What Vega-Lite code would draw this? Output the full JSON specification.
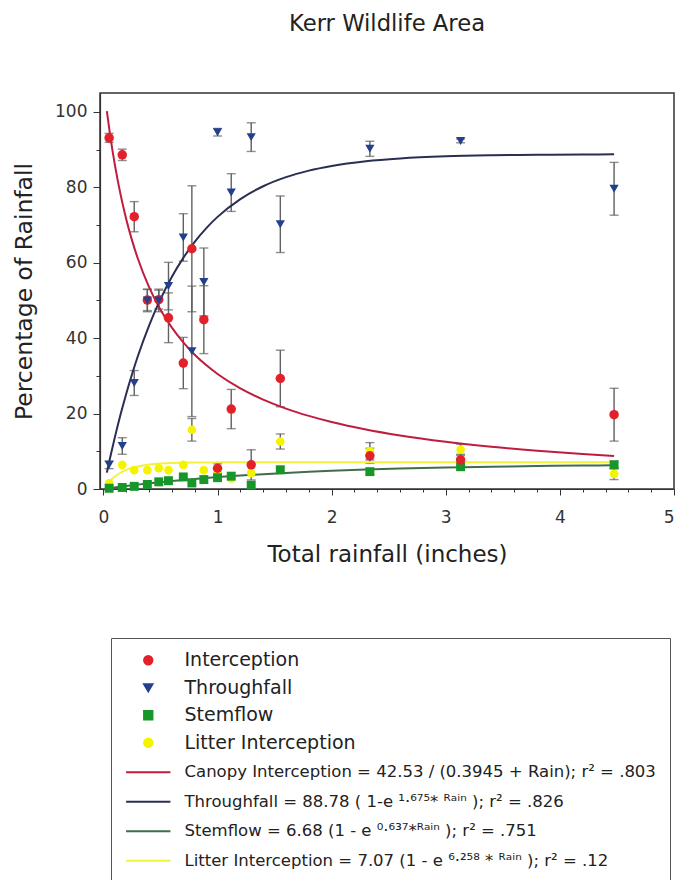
{
  "$schema": "https://vega.github.io/schema/vega-lite/v6.json",
  "width": 574,
  "height": 396,
  "autosize": {"type": "none"},
  "padding": {"left": 100, "top": 93, "right": 4, "bottom": 391},
  "background": "white",
  "title": {
    "text": "Kerr Wildlife Area",
    "font": "DejaVu Sans",
    "fontSize": 22.7,
    "fontWeight": "normal",
    "color": "#222222",
    "anchor": "middle",
    "frame": "group",
    "baseline": "alphabetic",
    "offset": 39
  },
  "datasets": {
    "obs": [
      {"series": "Litter Interception", "x": 0.05, "y": 1.5},
      {"series": "Litter Interception", "x": 0.165, "y": 6.4},
      {"series": "Litter Interception", "x": 0.27, "y": 5.0},
      {"series": "Litter Interception", "x": 0.385, "y": 5.0},
      {"series": "Litter Interception", "x": 0.485, "y": 5.5},
      {"series": "Litter Interception", "x": 0.57, "y": 5.0},
      {"series": "Litter Interception", "x": 0.7, "y": 6.4},
      {"series": "Litter Interception", "x": 0.775, "y": 15.7, "sd": 3},
      {"series": "Litter Interception", "x": 0.88, "y": 5.0},
      {"series": "Litter Interception", "x": 1.0, "y": 4.3},
      {"series": "Litter Interception", "x": 1.12, "y": 2.8},
      {"series": "Litter Interception", "x": 1.295, "y": 4.2},
      {"series": "Litter Interception", "x": 1.55, "y": 12.6, "sd": 2},
      {"series": "Litter Interception", "x": 2.335, "y": 10.0, "sd": 2.3},
      {"series": "Litter Interception", "x": 3.13, "y": 10.4, "sd": 1.5},
      {"series": "Litter Interception", "x": 4.475, "y": 4.0, "sd": 1.5},
      {"series": "Stemflow", "x": 0.05, "y": 0.2},
      {"series": "Stemflow", "x": 0.165, "y": 0.4},
      {"series": "Stemflow", "x": 0.27, "y": 0.7},
      {"series": "Stemflow", "x": 0.385, "y": 1.2},
      {"series": "Stemflow", "x": 0.485, "y": 1.9},
      {"series": "Stemflow", "x": 0.57, "y": 2.2},
      {"series": "Stemflow", "x": 0.7, "y": 3.2},
      {"series": "Stemflow", "x": 0.775, "y": 1.6},
      {"series": "Stemflow", "x": 0.88, "y": 2.5},
      {"series": "Stemflow", "x": 1.0, "y": 3.0},
      {"series": "Stemflow", "x": 1.12, "y": 3.4},
      {"series": "Stemflow", "x": 1.295, "y": 1.0},
      {"series": "Stemflow", "x": 1.55, "y": 5.1},
      {"series": "Stemflow", "x": 2.335, "y": 4.6, "sd": 0.8},
      {"series": "Stemflow", "x": 3.13, "y": 5.9},
      {"series": "Stemflow", "x": 4.475, "y": 6.4, "sd": 1},
      {"series": "Interception", "x": 0.05, "y": 93.1, "sd": 1.2},
      {"series": "Interception", "x": 0.165, "y": 88.6, "sd": 1.5},
      {"series": "Interception", "x": 0.27, "y": 72.2, "sd": 4},
      {"series": "Interception", "x": 0.385, "y": 50.1, "sd": 2.8},
      {"series": "Interception", "x": 0.485, "y": 50.2, "sd": 2.5},
      {"series": "Interception", "x": 0.57, "y": 45.4, "sd": 6.6},
      {"series": "Interception", "x": 0.7, "y": 33.4, "sd": 6.8},
      {"series": "Interception", "x": 0.775, "y": 63.7, "sd": 16.7},
      {"series": "Interception", "x": 0.88, "y": 44.9, "sd": 9},
      {"series": "Interception", "x": 1.0, "y": 5.5, "sd": 1.2},
      {"series": "Interception", "x": 1.12, "y": 21.2, "sd": 5.2},
      {"series": "Interception", "x": 1.295, "y": 6.4, "sd": 4},
      {"series": "Interception", "x": 1.55, "y": 29.3, "sd": 7.5},
      {"series": "Interception", "x": 2.335, "y": 8.8, "sd": 2},
      {"series": "Interception", "x": 3.13, "y": 7.7, "sd": 1.5},
      {"series": "Interception", "x": 4.475, "y": 19.7, "sd": 7},
      {"series": "Throughfall", "x": 0.05, "y": 6.4, "sd": 1},
      {"series": "Throughfall", "x": 0.165, "y": 11.4, "sd": 2.2},
      {"series": "Throughfall", "x": 0.27, "y": 28.1, "sd": 3.3},
      {"series": "Throughfall", "x": 0.385, "y": 50.0, "sd": 3},
      {"series": "Throughfall", "x": 0.485, "y": 50.0, "sd": 3},
      {"series": "Throughfall", "x": 0.57, "y": 53.8, "sd": 6.3},
      {"series": "Throughfall", "x": 0.7, "y": 66.7, "sd": 6.3},
      {"series": "Throughfall", "x": 0.775, "y": 36.5, "sd": 17.3},
      {"series": "Throughfall", "x": 0.88, "y": 54.9, "sd": 9},
      {"series": "Throughfall", "x": 1.0, "y": 94.6, "sd": 1},
      {"series": "Throughfall", "x": 1.12, "y": 78.6, "sd": 5},
      {"series": "Throughfall", "x": 1.295, "y": 93.3, "sd": 3.8},
      {"series": "Throughfall", "x": 1.55, "y": 70.2, "sd": 7.5},
      {"series": "Throughfall", "x": 2.335, "y": 90.2, "sd": 2},
      {"series": "Throughfall", "x": 3.13, "y": 92.3, "sd": 0.5},
      {"series": "Throughfall", "x": 4.475, "y": 79.6, "sd": 7}
    ],
    "fitLabels": [
      {"fit": "canopy", "label": "Canopy Interception = 42.53 / (0.3945 + Rain); r² = .803"},
      {"fit": "through", "label": "Throughfall = 88.78 ( 1-e ¹·⁶⁷⁵* ᴿᵃⁱⁿ ); r² = .826"},
      {"fit": "stem", "label": "Stemflow = 6.68 (1 - e ⁰·⁶³⁷*ᴿᵃⁱⁿ ); r² = .751"},
      {"fit": "litter", "label": "Litter Interception = 7.07 (1 - e ⁶·²⁵⁸ * ᴿᵃⁱⁿ ); r² = .12"}
    ],
    "fits": [
      {"fit": "canopy", "x": 0.03, "y": 100.19},
      {"fit": "canopy", "x": 0.06, "y": 93.58},
      {"fit": "canopy", "x": 0.1, "y": 86.01},
      {"fit": "canopy", "x": 0.15, "y": 78.11},
      {"fit": "canopy", "x": 0.2, "y": 71.54},
      {"fit": "canopy", "x": 0.25, "y": 65.99},
      {"fit": "canopy", "x": 0.3, "y": 61.24},
      {"fit": "canopy", "x": 0.4, "y": 53.53},
      {"fit": "canopy", "x": 0.5, "y": 47.55},
      {"fit": "canopy", "x": 0.6, "y": 42.77},
      {"fit": "canopy", "x": 0.7, "y": 38.86},
      {"fit": "canopy", "x": 0.8, "y": 35.6},
      {"fit": "canopy", "x": 0.9, "y": 32.85},
      {"fit": "canopy", "x": 1.0, "y": 30.5},
      {"fit": "canopy", "x": 1.2, "y": 26.67},
      {"fit": "canopy", "x": 1.4, "y": 23.7},
      {"fit": "canopy", "x": 1.6, "y": 21.32},
      {"fit": "canopy", "x": 1.8, "y": 19.38},
      {"fit": "canopy", "x": 2.0, "y": 17.76},
      {"fit": "canopy", "x": 2.3, "y": 15.78},
      {"fit": "canopy", "x": 2.6, "y": 14.2},
      {"fit": "canopy", "x": 3.0, "y": 12.53},
      {"fit": "canopy", "x": 3.4, "y": 11.21},
      {"fit": "canopy", "x": 3.8, "y": 10.14},
      {"fit": "canopy", "x": 4.2, "y": 9.26},
      {"fit": "canopy", "x": 4.475, "y": 8.73},
      {"fit": "through", "x": 0.03, "y": 4.35},
      {"fit": "through", "x": 0.06, "y": 8.49},
      {"fit": "through", "x": 0.1, "y": 13.69},
      {"fit": "through", "x": 0.15, "y": 19.73},
      {"fit": "through", "x": 0.2, "y": 25.28},
      {"fit": "through", "x": 0.25, "y": 30.37},
      {"fit": "through", "x": 0.3, "y": 35.07},
      {"fit": "through", "x": 0.4, "y": 43.35},
      {"fit": "through", "x": 0.5, "y": 50.36},
      {"fit": "through", "x": 0.6, "y": 56.28},
      {"fit": "through", "x": 0.7, "y": 61.29},
      {"fit": "through", "x": 0.8, "y": 65.54},
      {"fit": "through", "x": 0.9, "y": 69.12},
      {"fit": "through", "x": 1.0, "y": 72.15},
      {"fit": "through", "x": 1.2, "y": 76.88},
      {"fit": "through", "x": 1.4, "y": 80.27},
      {"fit": "through", "x": 1.6, "y": 82.69},
      {"fit": "through", "x": 1.8, "y": 84.42},
      {"fit": "through", "x": 2.0, "y": 85.66},
      {"fit": "through", "x": 2.3, "y": 86.9},
      {"fit": "through", "x": 2.6, "y": 87.64},
      {"fit": "through", "x": 3.0, "y": 88.2},
      {"fit": "through", "x": 3.4, "y": 88.48},
      {"fit": "through", "x": 3.8, "y": 88.63},
      {"fit": "through", "x": 4.2, "y": 88.7},
      {"fit": "through", "x": 4.475, "y": 88.73},
      {"fit": "stem", "x": 0.03, "y": 0.13},
      {"fit": "stem", "x": 0.1, "y": 0.41},
      {"fit": "stem", "x": 0.2, "y": 0.8},
      {"fit": "stem", "x": 0.3, "y": 1.16},
      {"fit": "stem", "x": 0.4, "y": 1.5},
      {"fit": "stem", "x": 0.5, "y": 1.82},
      {"fit": "stem", "x": 0.6, "y": 2.12},
      {"fit": "stem", "x": 0.7, "y": 2.4},
      {"fit": "stem", "x": 0.8, "y": 2.67},
      {"fit": "stem", "x": 0.9, "y": 2.92},
      {"fit": "stem", "x": 1.0, "y": 3.15},
      {"fit": "stem", "x": 1.2, "y": 3.57},
      {"fit": "stem", "x": 1.4, "y": 3.94},
      {"fit": "stem", "x": 1.6, "y": 4.27},
      {"fit": "stem", "x": 1.8, "y": 4.56},
      {"fit": "stem", "x": 2.0, "y": 4.81},
      {"fit": "stem", "x": 2.3, "y": 5.14},
      {"fit": "stem", "x": 2.6, "y": 5.41},
      {"fit": "stem", "x": 3.0, "y": 5.69},
      {"fit": "stem", "x": 3.4, "y": 5.91},
      {"fit": "stem", "x": 3.8, "y": 6.09},
      {"fit": "stem", "x": 4.2, "y": 6.22},
      {"fit": "stem", "x": 4.475, "y": 6.29},
      {"fit": "litter", "x": 0.03, "y": 1.21},
      {"fit": "litter", "x": 0.06, "y": 2.21},
      {"fit": "litter", "x": 0.1, "y": 3.29},
      {"fit": "litter", "x": 0.15, "y": 4.31},
      {"fit": "litter", "x": 0.2, "y": 5.05},
      {"fit": "litter", "x": 0.25, "y": 5.59},
      {"fit": "litter", "x": 0.3, "y": 5.99},
      {"fit": "litter", "x": 0.4, "y": 6.49},
      {"fit": "litter", "x": 0.5, "y": 6.76},
      {"fit": "litter", "x": 0.6, "y": 6.91},
      {"fit": "litter", "x": 0.7, "y": 6.98},
      {"fit": "litter", "x": 0.8, "y": 7.02},
      {"fit": "litter", "x": 1.0, "y": 7.06},
      {"fit": "litter", "x": 1.4, "y": 7.07},
      {"fit": "litter", "x": 2.0, "y": 7.07},
      {"fit": "litter", "x": 3.0, "y": 7.07},
      {"fit": "litter", "x": 4.475, "y": 7.07}
    ]
  },
  "config": {
    "view": {"stroke": "#333333", "strokeWidth": 1.5},
    "axis": {
      "grid": false,
      "domainColor": "#333333",
      "domainWidth": 1.2,
      "tickColor": "#333333",
      "labelFont": "DejaVu Sans",
      "labelFontSize": 17,
      "labelColor": "#333333",
      "titleFont": "DejaVu Sans",
      "titleFontSize": 23,
      "titleFontWeight": "normal",
      "titleColor": "#222222"
    },
    "legend": {
      "orient": "none",
      "legendX": 11,
      "legendY": 545,
      "padding": 14,
      "labelFont": "DejaVu Sans",
      "labelColor": "#222222",
      "labelLimit": 700,
      "labelOffset": 28,
      "symbolSize": 70,
      "symbolOffset": 15,
      "symbolStrokeWidth": 2,
      "rowPadding": 7.5,
      "strokeColor": "#555555"
    }
  },
  "resolve": {"axis": {"x": "independent", "y": "independent"}},
  "layer": [
    {
      "data": {"name": "obs"},
      "transform": [{"filter": "datum.sd > 0"}],
      "mark": {"type": "errorbar", "ticks": {"size": 9}, "color": "#606060", "thickness": 1.4},
      "encoding": {
        "x": {"field": "x", "type": "quantitative", "scale": {"domain": [-0.03, 5], "nice": false, "zero": false}, "axis": null},
        "y": {"field": "y", "type": "quantitative", "scale": {"domain": [0, 105], "nice": false}, "axis": null},
        "yError": {"field": "sd"}
      }
    },
    {
      "data": {"name": "fits"},
      "transform": [
        {"lookup": "fit", "from": {"data": {"name": "fitLabels"}, "key": "fit", "fields": ["label"]}}
      ],
      "mark": {"type": "line", "strokeWidth": 2, "interpolate": "monotone"},
      "encoding": {
        "x": {
          "field": "x", "type": "quantitative",
          "axis": {"values": [0.2, 0.4, 0.6, 0.8, 1.2, 1.4, 1.6, 1.8, 2.2, 2.4, 2.6, 2.8, 3.2, 3.4, 3.6, 3.8, 4.2, 4.4, 4.6, 4.8], "labels": false, "domain": false, "tickSize": 3, "title": null, "orient": "bottom"}
        },
        "y": {
          "field": "y", "type": "quantitative",
          "axis": {"values": [10, 30, 50, 70, 90], "labels": false, "domain": false, "tickSize": 4, "title": null, "orient": "left"}
        },
        "color": {"field": "label", "type": "nominal"},
        "detail": {"field": "fit"}
      }
    },
    {
      "data": {"name": "obs"},
      "mark": {"type": "point", "filled": true, "opacity": 1, "strokeWidth": 0},
      "encoding": {
        "x": {
          "field": "x", "type": "quantitative",
          "axis": {"values": [0, 1, 2, 3, 4, 5], "format": "d", "tickSize": 6, "labelPadding": 14, "title": "Total rainfall (inches)", "titleY": 72, "titleBaseline": "alphabetic", "orient": "bottom"}
        },
        "y": {
          "field": "y", "type": "quantitative",
          "axis": {"values": [0, 20, 40, 60, 80, 100], "tickSize": 7, "labelPadding": 6, "title": "Percentage of Rainfall", "titleFontSize": 23.5, "titleX": -69, "titleY": 198, "titleBaseline": "alphabetic", "orient": "left"}
        },
        "color": {
          "field": "series", "type": "nominal",
          "scale": {
            "domain": [
              "Interception", "Throughfall", "Stemflow", "Litter Interception",
              "Canopy Interception = 42.53 / (0.3945 + Rain); r² = .803",
              "Throughfall = 88.78 ( 1-e ¹·⁶⁷⁵* ᴿᵃⁱⁿ ); r² = .826",
              "Stemflow = 6.68 (1 - e ⁰·⁶³⁷*ᴿᵃⁱⁿ ); r² = .751",
              "Litter Interception = 7.07 (1 - e ⁶·²⁵⁸ * ᴿᵃⁱⁿ ); r² = .12"
            ],
            "range": ["#e3212b", "#23408e", "#17962a", "#f4f400", "#bf1d3e", "#2a2e52", "#3f6e49", "#f2f23c"]
          },
          "legend": {
            "title": null,
            "labelFontSize": {"expr": "indexof(['Interception','Throughfall','Stemflow','Litter Interception'], datum.value) >= 0 ? 19 : 16.5"},
            "encode": {
              "legend": {"strokeWidth": {"value": 1.5}},
              "symbols": {
                "shape": {"value": {"expr": "scale('shape', datum.value)"}},
                "fill": {"value": {"expr": "indexof(['Interception','Throughfall','Stemflow','Litter Interception'], datum.value) >= 0 ? scale('color', datum.value) : 'transparent'"}},
                "stroke": {"value": {"expr": "indexof(['Interception','Throughfall','Stemflow','Litter Interception'], datum.value) >= 0 ? 'transparent' : scale('color', datum.value)"}},
                "strokeWidth": {"value": 2},
                "opacity": {"value": 1}
              }
            }
          }
        },
        "shape": {
          "field": "series", "type": "nominal",
          "scale": {
            "domain": [
              "Interception", "Throughfall", "Stemflow", "Litter Interception",
              "Canopy Interception = 42.53 / (0.3945 + Rain); r² = .803",
              "Throughfall = 88.78 ( 1-e ¹·⁶⁷⁵* ᴿᵃⁱⁿ ); r² = .826",
              "Stemflow = 6.68 (1 - e ⁰·⁶³⁷*ᴿᵃⁱⁿ ); r² = .751",
              "Litter Interception = 7.07 (1 - e ⁶·²⁵⁸ * ᴿᵃⁱⁿ ); r² = .12"
            ],
            "range": ["circle", "triangle-down", "square", "circle", "M-5.3,0H5.3M0,-1.5M0,1.5", "M-5.3,0H5.3M0,-1.5M0,1.5", "M-5.3,0H5.3M0,-1.5M0,1.5", "M-5.3,0H5.3M0,-1.5M0,1.5"]
          },
          "legend": null
        },
        "size": {
          "field": "series", "type": "nominal",
          "scale": {
            "domain": ["Interception", "Throughfall", "Stemflow", "Litter Interception"],
            "range": [90, 75, 50, 90]
          },
          "legend": null
        }
      }
    }
  ]
}
